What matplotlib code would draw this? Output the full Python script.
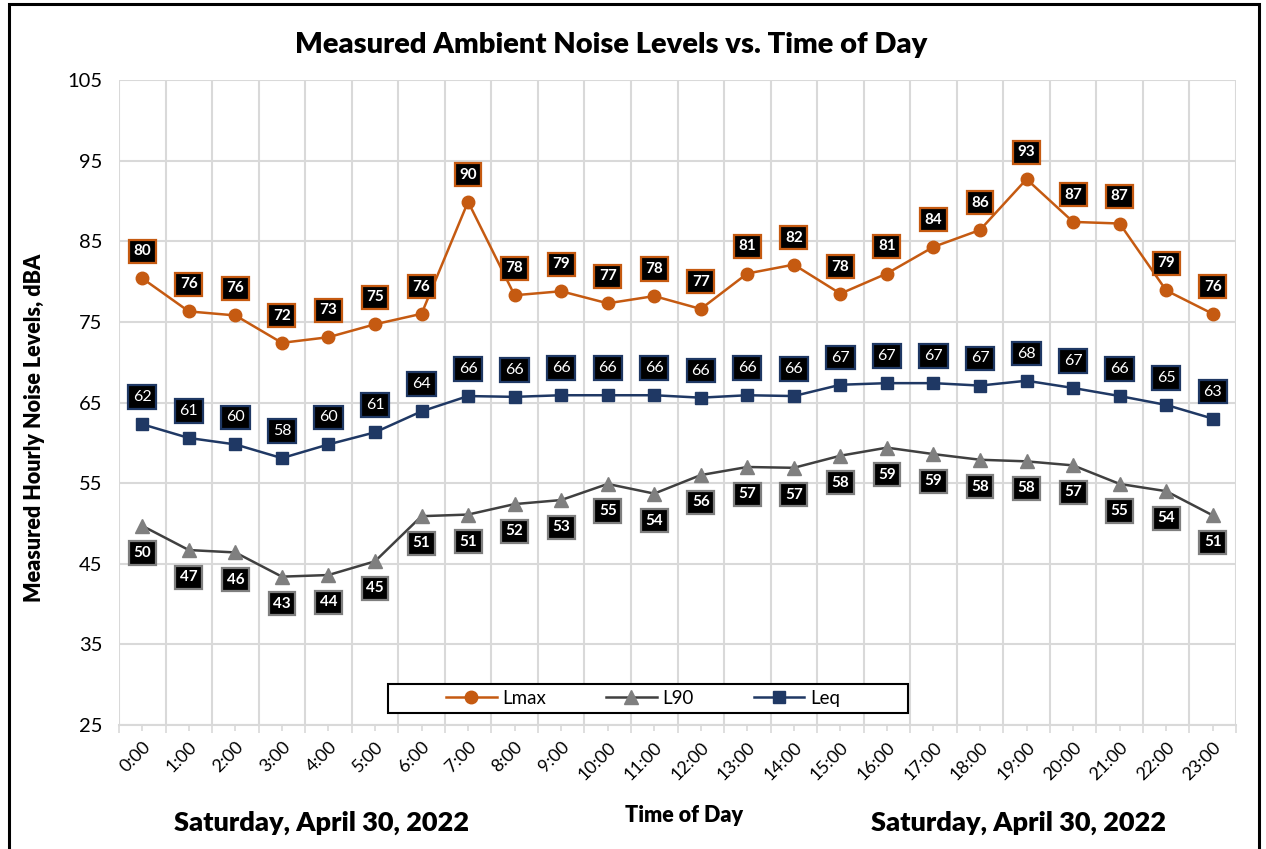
import matplotlib; matplotlib.use("Agg")
import matplotlib.pyplot as plt
from matplotlib.patches import Rectangle
from matplotlib.ticker import FixedLocator

plt.rcParams["font.family"] = ["Lato", "DejaVu Sans"]

hours = [f"{h}:00" for h in range(24)]
lmax = [80.4, 76.3, 75.8, 72.4, 73.1, 74.7, 76.0, 89.9, 78.3, 78.8, 77.3, 78.2,
        76.6, 81.0, 82.1, 78.5, 81.0, 84.3, 86.4, 92.7, 87.4, 87.2, 78.9, 76.0]
l90 = [49.7, 46.7, 46.4, 43.4, 43.6, 45.3, 50.9, 51.1, 52.4, 52.9, 54.9, 53.7,
       56.0, 57.0, 56.9, 58.4, 59.4, 58.6, 57.9, 57.7, 57.2, 54.9, 54.0, 51.0]
leq = [62.3, 60.6, 59.8, 58.1, 59.8, 61.3, 63.9, 65.8, 65.7, 65.9, 65.9, 65.9,
       65.6, 65.9, 65.8, 67.2, 67.4, 67.4, 67.1, 67.7, 66.8, 65.8, 64.7, 63.0]
date_label = "Saturday, April 30, 2022"

ORANGE, NAVY, DGRAY, MGRAY, GRID = "#C55A11", "#1F3864", "#404040", "#7F7F7F", "#D9D9D9"

fig = plt.figure(figsize=(12.66, 8.49), dpi=100)
ax = fig.add_axes([119/1266, 1-725/849, 1117/1266, 645/849])
x = list(range(len(hours)))

ax.plot(x, lmax, color=ORANGE, lw=1.8, marker="o", ms=9, label="Lmax", zorder=3)
ax.plot(x, l90, color=DGRAY, lw=1.8, marker="^", ms=9.5, mfc=MGRAY, mec=MGRAY, label="L90", zorder=3)
ax.plot(x, leq, color=NAVY, lw=1.8, marker="s", ms=8.5, label="Leq", zorder=3)

def labels(vals, edge, dy, bold):
    for xi, v in zip(x, vals):
        ax.annotate(f"{round(v):d}", (xi, v), xytext=(0, dy), textcoords="offset points",
                    ha="center", va="center", color="white", fontsize=11.5 if not bold else 11,
                    fontweight="bold" if bold else "normal", zorder=5,
                    bbox=dict(boxstyle="square,pad=0.3", fc="black", ec=edge, lw=1.6))

labels(lmax, ORANGE, 19.5, True)
labels(leq, NAVY, 19.5, False)
labels(l90, MGRAY, -19.5, True)

ax.set_xlim(-0.5, 23.5); ax.set_ylim(25, 105)
ax.set_yticks(range(25, 106, 10))
ax.set_xticks(x); ax.set_xticklabels(hours, rotation=45, ha="right", rotation_mode="anchor", fontsize=13)
ax.xaxis.set_minor_locator(FixedLocator([i - 0.5 for i in range(25)]))
ax.tick_params(axis="y", length=0, labelsize=14.5, pad=12)
ax.tick_params(axis="x", which="major", length=4, color=GRID, width=1.2, pad=6)
ax.tick_params(axis="x", which="minor", length=6, color=GRID, width=1.2)
ax.grid(axis="y", color=GRID, lw=1.5)
ax.grid(axis="x", which="minor", color=GRID, lw=1.5)
ax.set_axisbelow(True)
for sp in ("top", "right", "left"): ax.spines[sp].set_visible(False)
ax.spines["bottom"].set_color(GRID); ax.spines["bottom"].set_linewidth(1.5)

# legend box drawn separately (wider than its entries, as in the original)
ax.add_patch(Rectangle((0.2408, 0.0186), 0.4655, 0.045, transform=ax.transAxes,
                       fc="white", ec="black", lw=1.5, zorder=6))
leg = ax.legend(loc="center", bbox_to_anchor=(0.4691, 0.0411), ncol=3, fontsize=13.5,
                handlelength=2.7, handletextpad=0.3, columnspacing=3.2, frameon=False,
                borderaxespad=0)
leg.set_zorder(7)

fig.text(611/1266, 1-45/849, "Measured Ambient Noise Levels vs. Time of Day", ha="center", va="center",
         fontsize=21, fontweight="heavy")
fig.text(35/1266, 1-428/849, "Measured Hourly Noise Levels, dBA", rotation=90, ha="center", va="center",
         fontsize=15.5, fontweight="heavy")
fig.text(684/1266, 1-816/849, "Time of Day", ha="center", va="center", fontsize=15.5, fontweight="heavy")
fig.text(322/1266, 1-823/849, date_label, ha="center", va="center", fontsize=19.5, fontweight="heavy")
fig.text(1018/1266, 1-823/849, date_label, ha="center", va="center", fontsize=19.5, fontweight="heavy")

fig.patches.append(Rectangle((9/1266, -0.02), 1250/1266, 1-4/849+0.02, transform=fig.transFigure,
                             fill=False, ec="black", lw=2.2))

fig.savefig("out.png", dpi=100, facecolor="white")
